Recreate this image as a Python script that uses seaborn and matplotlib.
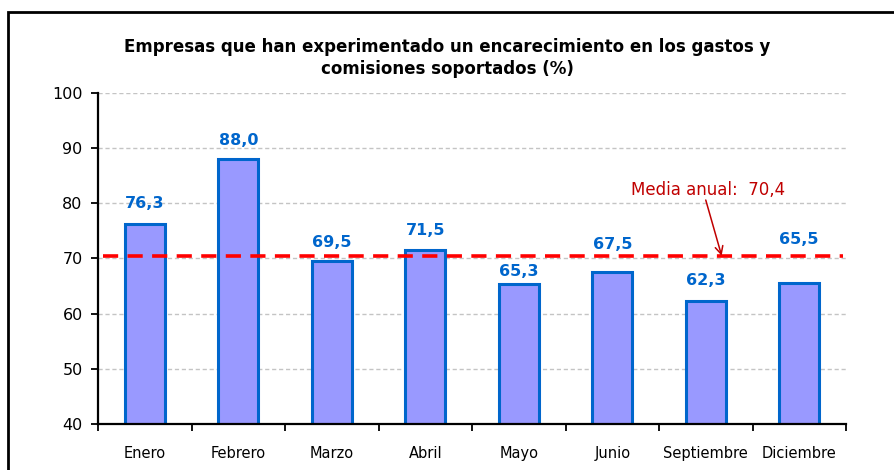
import numpy as np
import pandas as pd
import matplotlib
matplotlib.use("Agg")
import matplotlib.pyplot as plt
from matplotlib.patches import Rectangle
import seaborn as sns

months = ["Enero", "Febrero", "Marzo", "Abril", "Mayo", "Junio", "Septiembre", "Diciembre"]
values = [76.3, 88.0, 69.5, 71.5, 65.3, 67.5, 62.3, 65.5]
annual_mean = 70.4
yticks = [40, 50, 60, 70, 80, 90, 100]
title = "Empresas que han experimentado un encarecimiento en los gastos y\ncomisiones soportados (%)"
mean_label = "Media anual:  70,4"

# label offsets (points above bar top), style only
label_offsets = [14.4, 13.7, 13.7, 14.4, 9.4, 20.2, 14.4, 31.7]

sns.set_theme(style="white")
plt.rcParams['font.family'] = ['DejaVu Sans']

fig = plt.figure(figsize=(8.94, 4.70), dpi=100)
ax = fig.add_axes([98/894, 1-424/470, (846-98)/894, (424-93)/470])

df = pd.DataFrame({"mes": months, "valor": values})
sns.barplot(data=df, x="mes", y="valor", ax=ax, width=0.43,
            color="#9999FF", edgecolor="#0066CC", linewidth=2.2, saturation=1)

ax.set_ylim(40, 100)
ax.set_xlim(-0.5, len(months) - 0.5)
ax.set_yticks(yticks)
ax.set_yticklabels([str(t) for t in yticks], fontsize=11.5, color="black")
ax.set_xlabel("")
ax.set_ylabel("")

# gridlines
for t in yticks[1:]:
    ax.axhline(t, color="#C4C4C4", lw=1.0, ls=(0, (3, 2)), zorder=0)

# x ticks at category boundaries
ax.set_xticks(range(len(months)))
ax.set_xticklabels(months, fontsize=10.5, color="black")
ax.set_xticks(np.arange(-0.5, len(months), 1), minor=True)
ax.tick_params(axis="x", which="major", length=0, pad=16)
ax.tick_params(axis="x", which="minor", length=5, width=1.3, direction="out", color="black", bottom=True)
ax.tick_params(axis="y", length=5, width=1.3, direction="out", color="black", left=True, pad=6)

for s in ["top", "right"]:
    ax.spines[s].set_visible(False)
for s in ["left", "bottom"]:
    ax.spines[s].set_color("black")
    ax.spines[s].set_linewidth(1.6)

# value labels
for i, (v, off) in enumerate(zip(values, label_offsets)):
    ax.annotate(f"{v:.1f}".replace(".", ","), xy=(i, v), xytext=(0, off),
                textcoords="offset points", ha="center", va="center",
                fontsize=11.5, fontweight="bold", color="#0066CC", zorder=5)

# mean line
ax.plot([-0.45, len(months) - 0.53], [annual_mean, annual_mean], color="#FF0000",
        lw=2.6, ls=(0, (4.2, 2.6)), zorder=4)

ax.text(6.03, 82.5, mean_label, ha="center", va="center", fontsize=12,
        color="#C00000", zorder=6)
ax.annotate("", xy=(6.17, annual_mean + 0.1), xytext=(6.0, 80.6),
            arrowprops=dict(arrowstyle="->", color="#C00000", lw=1.1,
                            shrinkA=0, shrinkB=0, mutation_scale=14),
            zorder=6)

fig.text(447/894, 1-58/470, title, ha="center", va="center", fontsize=12,
         fontweight="bold", color="black", linespacing=1.35)

# outer frame (partially cropped)
fig.patches.append(Rectangle((8/894, -0.1), 1.2, 1 - 12/470 + 0.1,
                             transform=fig.transFigure, fill=False,
                             edgecolor="black", lw=2.0, zorder=10))

fig.savefig("out.png", dpi=100)
